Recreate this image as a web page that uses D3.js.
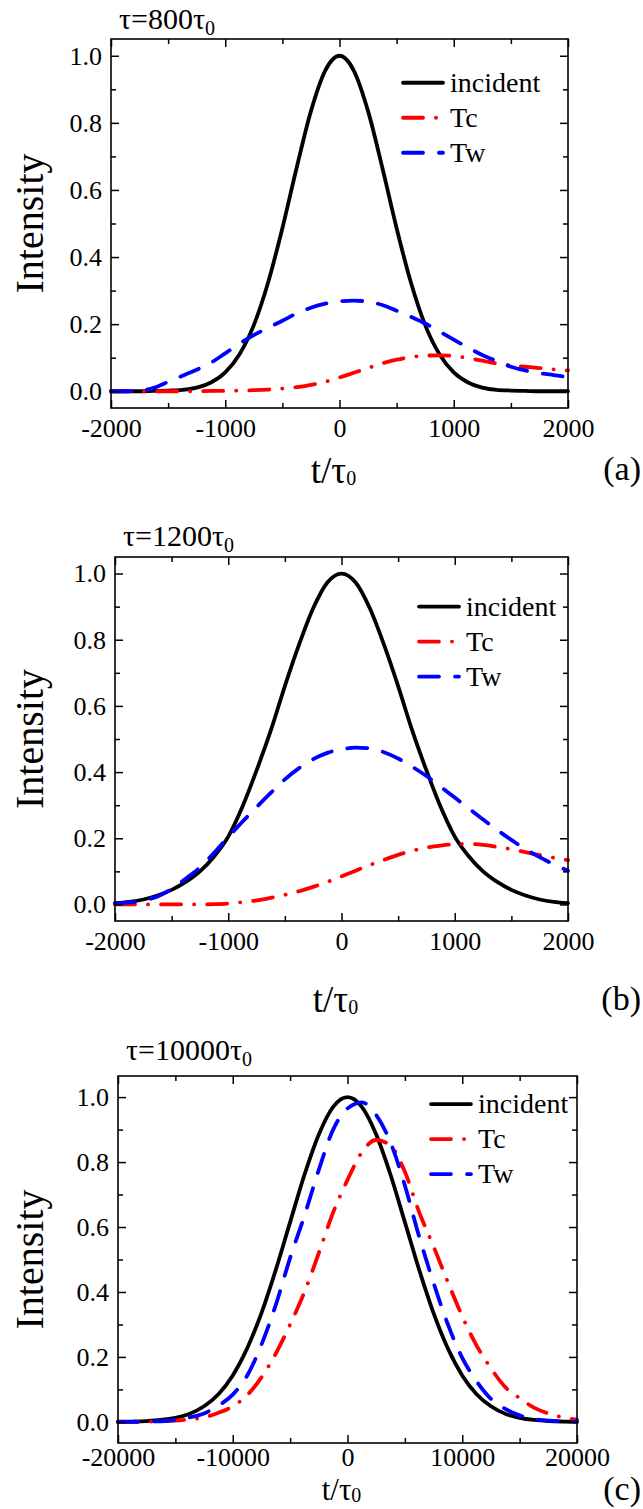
<!DOCTYPE html>
<html>
<head>
<meta charset="utf-8">
<script src="https://cdn.jsdelivr.net/npm/d3@7"></script>
<style>
  body { margin: 0; background: #fff; }
  svg { display: block; }
  svg text { font-family: "Liberation Serif", "Times New Roman", "DejaVu Serif", serif; }
</style>
</head>
<body>
<script>
// Time grid (t/tau0) for panels (a) and (b)
const tAB = [-2000,-1875,-1750,-1625,-1500,-1375,-1250,-1125,-1000,-875,-750,-625,-500,-375,-250,-125,
  0,125,250,375,500,625,750,875,1000,1125,1250,1375,1500,1625,1750,1875,2000];
// Time grid for panel (c)
const tC = [-20000,-18750,-17500,-16250,-15000,-13750,-12500,-11250,-10000,-8750,-7500,-6250,-5000,-3750,-2500,-1250,
  0,1250,2500,3750,5000,6250,7500,8750,10000,11250,12500,13750,15000,16250,17500,18750,20000];

// Panel (a): tau = 800 tau0
const incidentA = [0,0,0,0.001,0.002,0.004,0.011,0.026,0.056,0.110,0.197,0.324,0.486,0.666,0.835,0.956,
  1,0.956,0.835,0.666,0.486,0.324,0.197,0.110,0.056,0.026,0.011,0.004,0.002,0.001,0,0,0];
const tcA = [0,0,0,0,0,0,0,0.001,0.001,0.002,0.003,0.005,0.008,0.012,0.019,0.028,
  0.041,0.055,0.069,0.083,0.094,0.102,0.106,0.107,0.105,0.099,0.091,0.083,0.077,0.073,0.069,0.065,0.062];
const twA = [0,0,0.002,0.010,0.028,0.046,0.064,0.085,0.113,0.142,0.167,0.189,0.210,0.232,0.249,0.261,
  0.268,0.270,0.267,0.257,0.240,0.222,0.202,0.178,0.154,0.130,0.108,0.090,0.073,0.062,0.054,0.048,0.042];

// Panel (b): tau = 1200 tau0
const incidentB = [0.004,0.008,0.015,0.027,0.044,0.068,0.100,0.145,0.205,0.295,0.405,0.525,0.660,0.785,0.895,0.973,
  1,0.973,0.895,0.785,0.660,0.525,0.405,0.295,0.205,0.145,0.100,0.068,0.044,0.027,0.015,0.008,0.004];
const tcB = [0,0,0,0,0,0,0,0.001,0.003,0.007,0.012,0.020,0.029,0.040,0.053,0.068,
  0.085,0.102,0.119,0.135,0.150,0.162,0.172,0.178,0.182,0.183,0.180,0.174,0.167,0.158,0.149,0.141,0.134];
const twB = [0.003,0.006,0.012,0.024,0.047,0.078,0.112,0.156,0.204,0.250,0.294,0.337,0.378,0.412,0.439,0.458,
  0.469,0.474,0.472,0.460,0.441,0.416,0.388,0.356,0.323,0.290,0.257,0.225,0.195,0.167,0.143,0.121,0.102];

// Panel (c): tau = 10000 tau0
const incidentC = [0.0004,0.0011,0.0026,0.0059,0.0126,0.025,0.048,0.085,0.143,0.226,0.335,0.468,0.615,0.761,0.885,0.970,
  1,0.970,0.885,0.761,0.615,0.468,0.335,0.226,0.143,0.085,0.048,0.025,0.0126,0.0059,0.0026,0.0011,0.0004];
const tcC = [0,0,0.001,0.002,0.004,0.008,0.014,0.028,0.048,0.082,0.137,0.210,0.300,0.400,0.520,0.645,
  0.745,0.830,0.868,0.850,0.770,0.645,0.540,0.430,0.325,0.235,0.165,0.107,0.073,0.044,0.026,0.014,0.007];
const twC = [0,0,0.001,0.002,0.006,0.014,0.026,0.050,0.084,0.142,0.238,0.360,0.505,0.635,0.776,0.900,
  0.965,0.984,0.945,0.860,0.728,0.570,0.428,0.300,0.197,0.125,0.071,0.040,0.020,0.009,0.004,0.002,0.001];

// Tick values and labels
const xMajorAB = [-2000,-1000,0,1000,2000];
const xMinorAB = [-1500,-500,500,1500];
const xMajorC = [-20000,-10000,0,10000,20000];
const xMinorC = [-15000,-5000,5000,15000];
const yMajor = [0,0.2,0.4,0.6,0.8,1.0];
const yMinor = [0.1,0.3,0.5,0.7,0.9];
const seriesNames = ["incident","Tc","Tw"];
const panelTitles = ["800","1200","10000"];
const panelTags = ["(a)","(b)","(c)"];

const width = 643, height = 1509;
const font = "Liberation Serif, Times New Roman, DejaVu Serif, serif";

const styles = [
  {color: "#000000", dash: null},
  {color: "#ff0000", dash: "20,13,0.1,13"},
  {color: "#0000ff", dash: "20,16"}
];

const svg = d3.select("body").append("svg")
  .attr("width", width)
  .attr("height", height)
  .attr("viewBox", [0, 0, width, height])
  .attr("font-family", font);

const panels = [
  {left: 111, right: 568, top: 39, bottom: 408, pad: 0.05, t: tAB, series: [incidentA, tcA, twA],
   xMajor: xMajorAB, xMinor: xMinorAB, legendLeft: 165, legendDrop: 27,
   titleY: 29, tickPad: 11, xlabelSize: 37, xlabelY: 483, tagY: 480},
  {left: 115, right: 568, top: 557, bottom: 921, pad: 0.05, t: tAB, series: [incidentB, tcB, twB],
   xMajor: xMajorAB, xMinor: xMinorAB, legendLeft: 149, legendDrop: 33,
   titleY: 546, tickPad: 11, xlabelSize: 37, xlabelY: 1012, tagY: 1010},
  {left: 118, right: 577, top: 1076, bottom: 1443, pad: 0.065, t: tC, series: [incidentC, tcC, twC],
   xMajor: xMajorC, xMinor: xMinorC, legendLeft: 146, legendDrop: 7,
   titleY: 1060, tickPad: 5, xlabelSize: 31, xlabelY: 1500, tagY: 1500}
];

// plain hyphen for negative tick labels, as in the original figure
const fmtX = d => d < 0 ? "-" + Math.abs(d) : String(d);

panels.forEach((p, i) => {
  const x = d3.scaleLinear()
    .domain(d3.extent(p.t))
    .range([p.left, p.right]);
  const y = d3.scaleLinear()
    .domain([-p.pad, 1 + p.pad])
    .range([p.bottom, p.top]);

  const g = svg.append("g");

  // Curves
  p.series.forEach((vals, k) => {
    const line = d3.line()
      .x((d, j) => x(p.t[j]))
      .y(d => y(d))
      .curve(d3.curveMonotoneX);
    g.append("path")
      .attr("fill", "none")
      .attr("stroke", styles[k].color)
      .attr("stroke-width", 3.8)
      .attr("stroke-linecap", "round")
      .attr("stroke-dasharray", styles[k].dash)
      .attr("d", line(vals));
  });

  // Axes (ticks pointing inwards on all four sides)
  const styleAxis = sel => {
    sel.attr("font-family", font);
    sel.select(".domain").remove();
    sel.selectAll(".tick line").attr("stroke-width", 1.5);
    sel.selectAll(".tick text")
      .attr("font-family", font)
      .attr("font-size", 26)
      .attr("fill", "#000");
  };

  g.append("g")
    .attr("transform", `translate(0,${p.bottom})`)
    .call(d3.axisBottom(x).tickValues(p.xMajor).tickSizeInner(-8).tickSizeOuter(0).tickPadding(p.tickPad).tickFormat(fmtX))
    .call(styleAxis);
  g.append("g")
    .attr("transform", `translate(0,${p.bottom})`)
    .call(d3.axisBottom(x).tickValues(p.xMinor).tickSizeInner(-5).tickSizeOuter(0).tickFormat(""))
    .call(styleAxis);
  g.append("g")
    .attr("transform", `translate(0,${p.top})`)
    .call(d3.axisTop(x).tickValues(p.xMajor).tickSizeInner(-8).tickSizeOuter(0).tickFormat(""))
    .call(styleAxis);
  g.append("g")
    .attr("transform", `translate(0,${p.top})`)
    .call(d3.axisTop(x).tickValues(p.xMinor).tickSizeInner(-5).tickSizeOuter(0).tickFormat(""))
    .call(styleAxis);

  g.append("g")
    .attr("transform", `translate(${p.left},0)`)
    .call(d3.axisLeft(y).tickValues(yMajor).tickSizeInner(-8).tickSizeOuter(0).tickPadding(9).tickFormat(d3.format(".1f")))
    .call(styleAxis);
  g.append("g")
    .attr("transform", `translate(${p.left},0)`)
    .call(d3.axisLeft(y).tickValues(yMinor).tickSizeInner(-5).tickSizeOuter(0).tickFormat(""))
    .call(styleAxis);
  g.append("g")
    .attr("transform", `translate(${p.right},0)`)
    .call(d3.axisRight(y).tickValues(yMajor).tickSizeInner(-8).tickSizeOuter(0).tickFormat(""))
    .call(styleAxis);
  g.append("g")
    .attr("transform", `translate(${p.right},0)`)
    .call(d3.axisRight(y).tickValues(yMinor).tickSizeInner(-5).tickSizeOuter(0).tickFormat(""))
    .call(styleAxis);

  // Frame
  g.append("rect")
    .attr("x", p.left)
    .attr("y", p.top)
    .attr("width", p.right - p.left)
    .attr("height", p.bottom - p.top)
    .attr("fill", "none")
    .attr("stroke", "#000")
    .attr("stroke-width", 1.6);

  // Title: tau = ... tau0
  const title = g.append("text")
    .attr("x", p.left + 8)
    .attr("y", p.titleY)
    .attr("font-size", 30)
    .text(`τ=${panelTitles[i]}τ`);
  title.append("tspan").attr("dy", "0.3em").attr("font-size", 20).text("0");

  // y-axis label
  g.append("text")
    .attr("transform", `translate(43,${(p.top + p.bottom) / 2}) rotate(-90)`)
    .attr("text-anchor", "middle")
    .attr("font-size", 40)
    .text("Intensity");

  // x-axis label
  const xl = g.append("text")
    .attr("x", (p.left + p.right) / 2 - 6)
    .attr("y", p.xlabelY)
    .attr("text-anchor", "middle")
    .attr("font-size", p.xlabelSize)
    .text("t/τ");
  xl.append("tspan").attr("dy", "0.12em").attr("font-size", 20).text("0");

  // Panel tag
  g.append("text")
    .attr("x", 641)
    .attr("y", p.tagY)
    .attr("text-anchor", "end")
    .attr("font-size", 34)
    .text(panelTags[i]);

  // Legend
  const lx = p.right - p.legendLeft;
  const ly = y(1) + p.legendDrop;
  seriesNames.forEach((name, k) => {
    const yy = ly + k * 35;
    g.append("line")
      .attr("x1", lx).attr("x2", lx + 40)
      .attr("y1", yy).attr("y2", yy)
      .attr("stroke", styles[k].color)
      .attr("stroke-width", 3.8)
      .attr("stroke-linecap", "round")
      .attr("stroke-dasharray", styles[k].dash);
    g.append("text")
      .attr("x", lx + 47)
      .attr("y", yy + 9)
      .attr("font-size", 28)
      .text(name);
  });
});
</script>
</body>
</html>
